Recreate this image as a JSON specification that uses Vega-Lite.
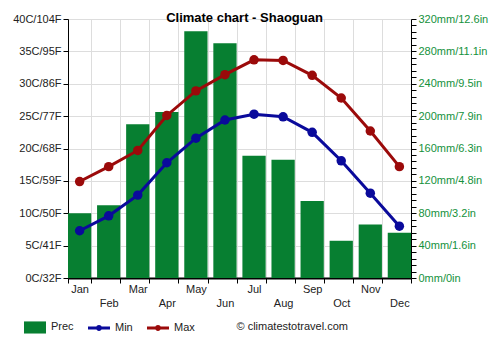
{
  "$schema": "https://vega.github.io/schema/vega-lite/v6.json",
  "width": 343,
  "height": 259,
  "autosize": "none",
  "padding": {"left": 68, "top": 19, "right": 89, "bottom": 72},
  "background": "white",
  "title": {"text": "Climate chart - Shaoguan", "font": "Liberation Sans", "fontSize": 13, "fontWeight": "bold", "color": "#000000", "anchor": "middle", "offset": 0, "dx": 5, "dy": 12},
  "config": {
    "font": "Liberation Sans",
    "view": {"stroke": null},
    "axis": {"labelFont": "Liberation Sans", "labelFontSize": 11, "titleFont": "Liberation Sans"}
  },
  "data": {
    "values": [
      {"month": "Jan", "Prec": 80, "Min": 7.3, "Max": 14.9},
      {"month": "Feb", "Prec": 90, "Min": 9.6, "Max": 17.2},
      {"month": "Mar", "Prec": 190, "Min": 12.8, "Max": 19.7},
      {"month": "Apr", "Prec": 205, "Min": 17.8, "Max": 25.1},
      {"month": "May", "Prec": 305, "Min": 21.6, "Max": 28.9},
      {"month": "Jun", "Prec": 290, "Min": 24.4, "Max": 31.4},
      {"month": "Jul", "Prec": 151, "Min": 25.3, "Max": 33.7},
      {"month": "Aug", "Prec": 146, "Min": 24.9, "Max": 33.6},
      {"month": "Sep", "Prec": 95, "Min": 22.5, "Max": 31.3},
      {"month": "Oct", "Prec": 46, "Min": 18.1, "Max": 27.8},
      {"month": "Nov", "Prec": 66, "Min": 13.1, "Max": 22.7},
      {"month": "Dec", "Prec": 56, "Min": 8.0, "Max": 17.2}
    ]
  },
  "encoding": {
    "x": {
      "field": "month", "type": "ordinal", "sort": null,
      "scale": {"paddingInner": 0.2, "paddingOuter": 0},
      "axis": {
        "title": "© climatestotravel.com",
        "titleX": 168, "titleY": 48, "titleAlign": "left", "titleAnchor": null, "titleBaseline": "middle",
        "titleFontWeight": "normal", "titleFontSize": 11, "titleColor": "#222222",
        "labelAngle": 0, "labelPadding": 0, "labelLineHeight": 14, "labelBaseline": "top",
        "labelColor": "#222222",
        "labelExpr": "indexof(['Feb','Apr','Jun','Aug','Oct','Dec'], datum.value) >= 0 ? ['', datum.value] : datum.value",
        "tickBand": "extent", "grid": true, "gridColor": "#dddddd",
        "domainColor": "#000000", "domainWidth": 2, "tickColor": "#000000", "tickSize": 5
      }
    }
  },
  "layer": [
    {
      "mark": {"type": "bar"},
      "encoding": {
        "y": {
          "field": "Prec", "type": "quantitative",
          "scale": {"domain": [0, 320], "nice": false},
          "axis": {
            "orient": "right", "title": null, "grid": false,
            "values": [0, 8, 16, 24, 32, 40, 48, 56, 64, 72, 80, 88, 96, 104, 112, 120, 128, 136, 144, 152, 160, 168, 176, 184, 192, 200, 208, 216, 224, 232, 240, 248, 256, 264, 272, 280, 288, 296, 304, 312, 320],
            "labelExpr": "datum.value % 40 == 0 ? datum.value + 'mm/' + (ceil(datum.value / 25.4 * 10) / 10) + 'in' : ''",
            "labelOverlap": false, "labelColor": "#14913c", "labelPadding": 2,
            "tickColor": "#000000", "tickSize": 5, "domainColor": "#000000"
          }
        },
        "color": {
          "datum": "Prec",
          "title": null,
          "scale": {"domain": ["Prec", "Min", "Max"], "range": ["#077f31", "#0a0a9b", "#9b0a0a"]},
          "legend": {
            "orient": "none", "legendX": -44, "legendY": 297, "direction": "horizontal",
            "title": null, "labelFontSize": 11, "labelColor": "#222222", "labelFont": "Liberation Sans",
            "symbolSize": 484, "columnPadding": 14, "labelOffset": 5,
            "encode": {
              "symbols": {
                "update": {
                  "shape": {"signal": "datum.value == 'Prec' ? 'M-1,-0.55H1V0.55H-1Z' : 'M-1,-0.13H1V0.13H-1Z M-0.27,0A0.27,0.27 0 1,1 0.27,0A0.27,0.27 0 1,1 -0.27,0Z'"},
                  "fill": {"signal": "datum.value == 'Prec' ? '#077f31' : datum.value == 'Min' ? '#0a0a9b' : '#9b0a0a'"},
                  "opacity": {"value": 1},
                  "fillOpacity": {"value": 1},
                  "strokeWidth": {"value": 0}
                }
              }
            }
          }
        }
      }
    },
    {
      "transform": [{"fold": ["Min", "Max"], "as": ["series", "temp"]}],
      "mark": {"type": "line", "strokeWidth": 3, "point": {"size": 90, "filled": true, "opacity": 1}},
      "encoding": {
        "y": {
          "field": "temp", "type": "quantitative",
          "scale": {"domain": [0, 40], "nice": false},
          "axis": {
            "orient": "left", "title": null,
            "values": [0, 5, 10, 15, 20, 25, 30, 35, 40],
            "labelExpr": "datum.value + 'C/' + round(datum.value * 9 / 5 + 32) + 'F'",
            "labelColor": "#222222", "labelPadding": 2,
            "grid": true, "gridColor": "#dddddd",
            "tickColor": "#000000", "tickSize": 5, "domainColor": "#000000"
          }
        },
        "color": {"field": "series", "type": "nominal", "sort": ["Min", "Max"], "title": null}
      }
    }
  ],
  "resolve": {"scale": {"y": "independent"}}
}
